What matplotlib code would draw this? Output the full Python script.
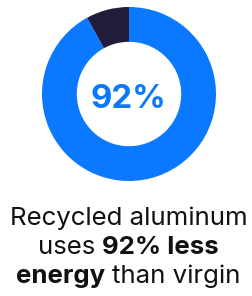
import matplotlib
matplotlib.use("Agg")
import matplotlib.pyplot as plt

# Data
labels = ["Recycled savings", "Remaining"]
values = [92, 8]
colors = ["#0A78FF", "#1F1D3B"]
center_label = "92%"
caption_lines = [
    [("Recycled aluminum", "normal")],
    [("uses ", "normal"), ("92% less", "bold")],
    [("energy", "bold"), (" than virgin", "normal")],
]

W, H = 252, 296
DPI = 100
plt.rcParams['font.family'] = ['Inter', 'DejaVu Sans']
fig = plt.figure(figsize=(W / DPI, H / DPI), dpi=DPI)
fig.patch.set_facecolor("white")

cx, cy, r = 129, 94, 87
ax = fig.add_axes([(cx - r) / W, (H - cy - r) / H, 2 * r / W, 2 * r / H])
ax.pie(values, colors=colors, startangle=90, counterclock=False, radius=1,
       wedgeprops=dict(width=0.4, linewidth=0))
ax.set_xlim(-1, 1)
ax.set_ylim(-1, 1)
ax.axis("off")

fig.text(128 / W, (H - 108) / H, center_label, ha="center", va="baseline",
         fontsize=23.8, fontweight="bold", color=colors[0])

fig.canvas.draw()
renderer = fig.canvas.get_renderer()
fs = 18.6
tcolor = "#111111"

def width(s, weight):
    t = fig.text(0, 0, s, fontsize=fs, fontweight=weight)
    w1 = t.get_window_extent(renderer).width
    t.remove()
    return w1

def space_w(weight):
    return width("a a", weight) - width("aa", weight)

baselines = [225, 254, 283]
center_x = 128.5
for line, yb in zip(caption_lines, baselines):
    parts = []
    for s, wgt in line:
        lead = len(s) - len(s.lstrip(" "))
        trail = len(s) - len(s.rstrip(" "))
        core = s.strip(" ")
        sw = space_w(wgt)
        parts.append((core, wgt, lead * sw, width(core, wgt), trail * sw))
    total = sum(p[2] + p[3] + p[4] for p in parts)
    x = center_x - total / 2
    for core, wgt, lw, cw, tw in parts:
        x += lw
        fig.text(x / W, (H - yb) / H, core, ha="left", va="baseline",
                 fontsize=fs, fontweight=wgt, color=tcolor)
        x += cw + tw

fig.savefig("out.png", dpi=DPI, facecolor="white")
